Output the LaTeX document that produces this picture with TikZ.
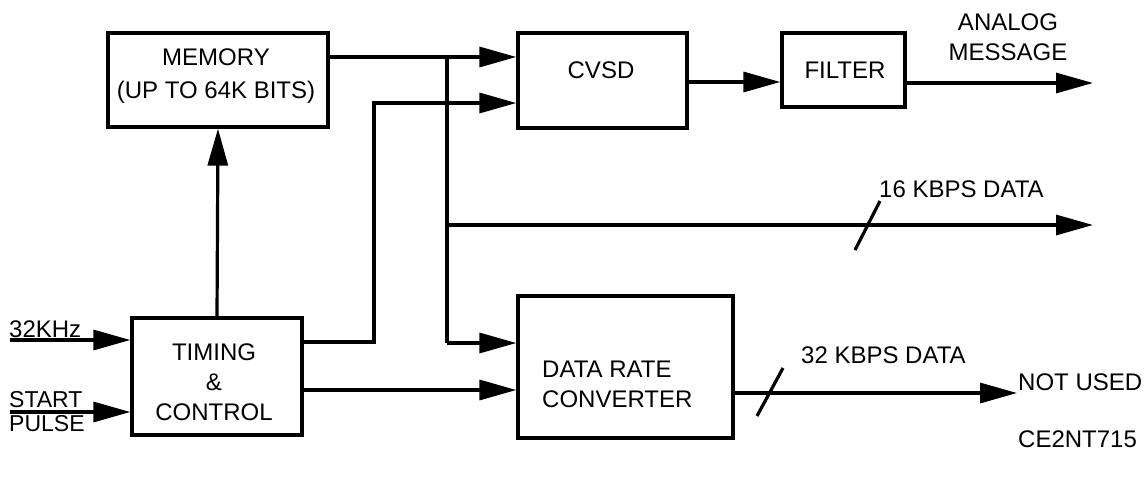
\documentclass[tikz,border=0pt]{standalone}
\usepackage{fontspec}
\setmainfont{Liberation Sans}
\usetikzlibrary{arrows.meta}
\begin{document}
\begin{tikzpicture}[x=1pt,y=-1pt,
  box/.style={draw,line width=3.2pt,inner sep=0pt},
  lbl/.style={inner sep=0pt,align=center,font=\fontsize{24}{30}\selectfont},
  lbll/.style={inner sep=0pt,align=left,font=\fontsize{24}{30}\selectfont},
  wire/.style={line width=3.2pt},
  arr/.style={line width=3.2pt,-{Triangle[length=37pt,width=20pt]}}]
\useasboundingbox (0,0) rectangle (1144,483);
% boxes
\node[box,minimum width=220pt,minimum height=94pt] (memory) at (218,80) {};
\node[lbl,font=\fontsize{24}{33}\selectfont] (memt) at (216,76) {MEMORY\\(UP TO 64K BITS)};
\node[box,minimum width=169pt,minimum height=95pt] (cvsd) at (602.5,80.5) {};
\node[lbl] (cvsdt) at (601,70) {CVSD};
\node[box,minimum width=123pt,minimum height=74pt] (filter) at (843.5,70) {};
\node[lbl] (filtert) at (845,70) {FILTER};
\node[box,minimum width=170pt,minimum height=117pt] (timing) at (217,376.5) {};
\node[lbl] (timingt) at (214,382) {TIMING\\\&\\CONTROL};
\node[box,minimum width=215pt,minimum height=142pt] (drc) at (625.5,367) {};
\node[lbll,anchor=west] (drct) at (542,384) {DATA RATE\\CONVERTER};
% junctions
\coordinate (j1) at (447,57);
\coordinate (j2) at (447,225);
\coordinate (j3) at (447,343);
\coordinate (t1) at (374,342);
\coordinate (t2) at (374,103);
% connectors
\draw[arr] (memory.east |- j1) -- (cvsd.west |- j1);
\draw[wire] (j1) -- (j3);
\draw[arr] (j3) -- (drc.west |- j3);
\draw[arr] (timing.east |- t1) -- (t1) -- (t2) -- (cvsd.west |- t2);
\draw[arr] (timing.east |- 0,390) -- (drc.west |- 0,390);
\draw[arr] (timing.north) -- (memory.south);
\draw[arr] (cvsd.east |- 0,82) -- (filter.west |- 0,82);
\coordinate (ao) at (1093,83);
\draw[arr] (filter.east |- ao) -- (ao);
\coordinate (o16) at (1093,225);
\draw[arr] (j2) -- (o16);
\coordinate (o32) at (1017,393);
\draw[arr] (drc.east |- o32) -- (o32);
% slashes
\draw[wire] (855,250) -- (880,201);
\draw[wire] (757,416) -- (783,368);
% inputs
\coordinate (in1) at (10,340);
\coordinate (in2) at (10,412);
\draw[arr] (in1) -- (timing.west |- in1);
\draw[arr] (in2) -- (timing.west |- in2);
% labels
\node[lbll,anchor=base west] (l32k) at (9,337) {32KHz};
\node[lbll,anchor=west,font=\fontsize{23}{24}\selectfont] (lsp) at (9,412) {START\\PULSE};
\node[lbl] (lan) at (1008,37) {ANALOG\\MESSAGE};
\node[lbll,anchor=west] (l16) at (879,189) {16 KBPS DATA};
\node[lbll,anchor=west] (l32) at (801,355) {32 KBPS DATA};
\node[lbll,anchor=west] (lnu) at (1018,382) {NOT USED};
\node[lbll,anchor=west] (lce) at (1018,439) {CE2NT715};
\end{tikzpicture}
\end{document}
